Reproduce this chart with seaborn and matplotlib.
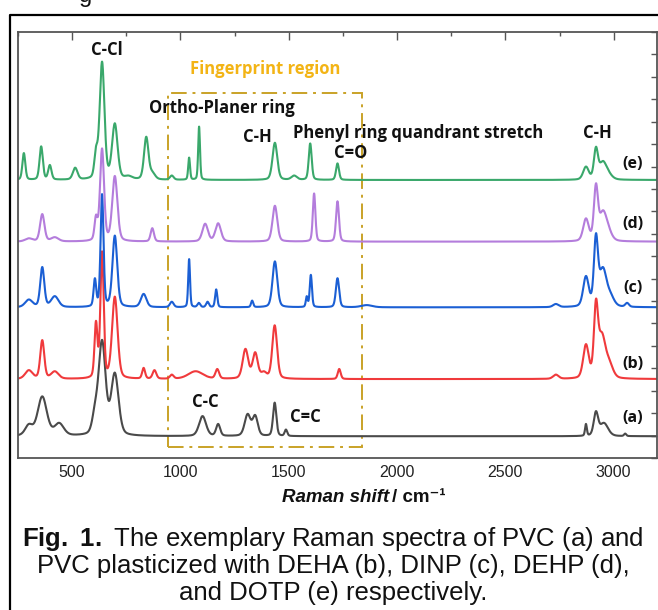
import numpy as np
import pandas as pd
import matplotlib
matplotlib.use("Agg")
import matplotlib.pyplot as plt
from matplotlib.patches import Rectangle
import seaborn as sns

# ---------------- data ----------------
# each spectrum: baseline offset + peaks (centre cm-1, observed height above baseline, FWHM cm-1)
series_names = ["(a)", "(b)", "(c)", "(d)", "(e)"]
series_colors = ["#4a4a4a", "#f03a3c", "#1b5fd4", "#b47ddc", "#3aa86b"]
baselines = [0.97, 3.52, 6.72, 9.65, 12.40]

peaks_a = [(300, 0.55, 40), (362, 1.78, 50), (440, 0.6, 50), (580, 0.25, 20), (605, 1.5, 30),
           (638, 4.3, 38), (697, 2.84, 40), (1102, 0.9, 38), (1174, 0.55, 22), (1310, 1.0, 32),
           (1345, 0.95, 28), (1435, 1.5, 18), (1487, 0.3, 14), (2872, 0.55, 10), (2918, 1.12, 24),
           (2955, 0.6, 45), (3053, 0.12, 12)]
peaks_b = [(300, 0.4, 40), (362, 1.74, 22), (420, 0.35, 40), (610, 2.6, 16), (638, 5.7, 18),
           (697, 3.68, 30), (830, 0.5, 16), (880, 0.4, 20), (960, 0.2, 20), (1070, 0.35, 80),
           (1170, 0.45, 20), (1300, 1.35, 30), (1345, 1.2, 28), (1385, 0.35, 30), (1435, 2.4, 26),
           (1733, 0.45, 16), (2733, 0.2, 30), (2872, 1.56, 30), (2918, 3.57, 22), (2945, 2.1, 40),
           (2980, 0.9, 40)]
peaks_c = [(300, 0.35, 40), (362, 1.8, 22), (420, 0.5, 40), (605, 1.3, 14), (638, 5.05, 16),
           (697, 3.2, 26), (830, 0.6, 30), (960, 0.25, 20), (1040, 2.15, 10), (1085, 0.2, 15),
           (1125, 0.25, 15), (1165, 0.8, 12), (1331, 0.3, 12), (1436, 2.05, 26), (1583, 0.5, 10),
           (1602, 1.45, 12), (1725, 1.3, 18), (1860, 0.1, 60), (2733, 0.15, 30), (2872, 1.4, 30),
           (2918, 3.3, 22), (2950, 1.8, 40), (2985, 0.7, 40), (3062, 0.2, 20)]
peaks_d = [(300, 0.15, 40), (362, 1.23, 24), (420, 0.2, 40), (610, 1.2, 16), (638, 4.16, 22),
           (697, 2.93, 28), (870, 0.6, 18), (1114, 0.8, 30), (1174, 0.82, 30), (1436, 1.6, 26),
           (1617, 2.15, 14), (1725, 1.8, 16), (2872, 1.04, 30), (2918, 2.6, 22), (2950, 1.4, 40),
           (2975, 0.8, 40)]
peaks_e = [(277, 1.2, 16), (357, 1.5, 18), (397, 0.67, 18), (514, 0.55, 25), (610, 1.5, 18),
           (638, 5.28, 26), (697, 2.53, 30), (760, 0.2, 40), (842, 1.93, 24), (870, 0.4, 30),
           (960, 0.2, 20), (1040, 1.0, 10), (1086, 2.38, 10), (1436, 1.66, 26), (1525, 0.2, 30),
           (1599, 1.63, 16), (1725, 0.74, 16), (2872, 0.6, 30), (2918, 1.48, 22), (2950, 0.85, 40),
           (2978, 0.4, 40)]
all_peaks = [peaks_a, peaks_b, peaks_c, peaks_d, peaks_e]

x_ticks = [500, 1000, 1500, 2000, 2500, 3000]
annotations = [("C-Cl", 662, 18.2), ("Ortho-Planer ring", 1192, 15.6), ("C-H", 1354, 14.3),
               ("Phenyl ring quandrant stretch", 2097, 14.5), ("C=O", 1786, 13.6),
               ("C-H", 2924, 14.5), ("C-C", 1114, 2.5), ("C=C", 1577, 1.83)]
label_y = [1.8, 4.2, 7.6, 10.45, 13.1]
fp_box = (943, 1836, 0.5, 16.28)


# ---------------- build spectra ----------------
def shape(xv, c, fwhm, eta=0.3):
    d2 = ((xv - c) / fwhm) ** 2
    return (1 - eta) * np.exp(-4 * np.log(2) * d2) + eta / (1 + 4 * d2)


x = np.arange(250, 3201, 1.0)
frames = []
for name, base, pk in zip(series_names, baselines, all_peaks):
    cs = np.array([p[0] for p in pk], float)
    ts = np.array([p[1] for p in pk], float)
    ws = np.array([p[2] for p in pk], float)
    M = np.array([[shape(ci, cj, wj) for cj, wj in zip(cs, ws)] for ci in cs])
    amp = ts.copy()
    for _ in range(400):  # amplitudes so that the summed curve reaches the observed heights
        amp = np.clip(amp + 0.5 * (ts - M @ amp), 0, None)
    y = base + sum(a * shape(x, c, w) for a, c, w in zip(amp, cs, ws))
    frames.append(pd.DataFrame({"shift": x, "intensity": y, "sample": name}))
df = pd.concat(frames, ignore_index=True)

# ---------------- figure ----------------
sns.set_theme(style="white")
plt.rcParams["font.family"] = ["Liberation Sans", "DejaVu Sans"]
plt.rcParams["mathtext.fontset"] = "custom"
plt.rcParams["mathtext.rm"] = "Liberation Sans"
plt.rcParams["mathtext.bf"] = "Liberation Sans:bold"

fig = plt.figure(figsize=(6.58, 6.10), dpi=100)
ax = fig.add_axes([18 / 658, 1 - 458 / 610, (657 - 18) / 658, (458 - 32) / 610])

sns.lineplot(data=df, x="shift", y="intensity", hue="sample", palette=series_colors,
             hue_order=series_names, linewidth=1.5, legend=False, ax=ax)

ax.set_xlim(250, 3200)
ax.set_ylim(0, 19)
ax.set_xticks(x_ticks)
ax.set_xticks(np.arange(250, 3201, 250), minor=True)
ax.set_yticks(np.arange(0, 20, 1))
ax.set_yticklabels([])
ax.tick_params(axis="x", which="major", direction="in", length=6, width=1, top=True,
               labelsize=11.5, colors="#555555", labelcolor="#222222", pad=5)
ax.tick_params(axis="x", which="minor", direction="in", length=3, width=1, top=True,
               colors="#555555")
ax.tick_params(axis="y", which="major", direction="in", length=4, width=1, right=True,
               colors="#555555")
for s in ax.spines.values():
    s.set_color("#555555")
    s.set_linewidth(1.3)
ax.set_xlabel("")
ax.set_ylabel("")

# fingerprint region box
ax.add_patch(Rectangle((fp_box[0], fp_box[2]), fp_box[1] - fp_box[0], fp_box[3] - fp_box[2],
                       fill=False, linestyle=(0, (8, 3, 1.5, 3)), edgecolor="#c9a227",
                       linewidth=1.4))
ax.text(1391, 17.35, "Fingerprint region", color="#f3b415", fontsize=12,
        fontweight="bold", family="Open Sans", ha="center", va="center")

for t, xx, yy in annotations:
    ax.text(xx, yy, t, fontsize=12, fontweight="bold", family="Open Sans",
            ha="center", va="center", color="#111111")
for t, yy in zip(series_names, label_y):
    ax.text(3087, yy, t, fontsize=11.5, fontweight="bold", family="Open Sans",
            ha="center", va="center", color="#111111")

# x label: bold italic + bold
fig.text(389 / 658, 1 - 498 / 610, "Raman shift", fontsize=13.5, fontweight="bold",
         style="italic", ha="right", va="center", color="#111111")
fig.text(392 / 658, 1 - 498 / 610, "/ cm\u207b\u00b9", fontsize=13.5, fontweight="bold",
         ha="left", va="center", color="#111111",
         family=["Liberation Sans", "DejaVu Sans"])

# caption
fig.text(333 / 658, 1 - 539 / 610, "$\\bf{Fig.}$ $\\bf{1.}$ The exemplary Raman spectra of PVC (a) and",
         fontsize=18.5, ha="center", va="center", color="#111111")
fig.text(333 / 658, 1 - 566 / 610, "PVC plasticized with DEHA (b), DINP (c), DEHP (d),",
         fontsize=18.5, ha="center", va="center", color="#111111")
fig.text(333 / 658, 1 - 593 / 610, "and DOTP (e) respectively.",
         fontsize=18.5, ha="center", va="center", color="#111111")

# fragment of text cut off above the frame (as in the reference)
fig.text(86 / 658, 1 - 2 / 610, "g", fontsize=17, ha="center", va="baseline", color="#111111")

# outer frame
fig.add_artist(plt.Line2D([10 / 658, 10 / 658, 1.0], [0.0, 1 - 15 / 610, 1 - 15 / 610],
                          transform=fig.transFigure, color="black", linewidth=1.6))

fig.savefig("out.png", dpi=100)
